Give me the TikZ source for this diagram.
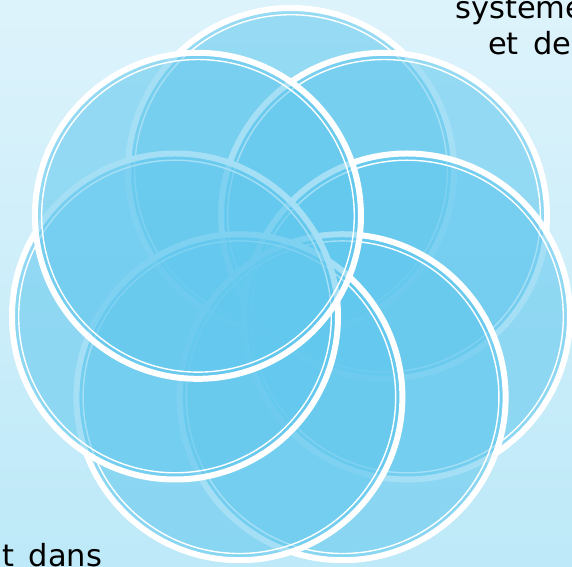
\documentclass[tikz,border=0pt]{standalone}
\usepackage{fontspec}
\setmainfont[WordSpace=1.5]{DejaVu Sans}
\definecolor{bgtop}{RGB}{221,243,251}
\definecolor{bgbot}{RGB}{189,233,248}
\definecolor{petal}{RGB}{98,200,238}
\tikzset{
  petalfill/.style={fill=petal, fill opacity=0.57},
  rimthick/.style={draw=white, line width=6pt},
  rimthin/.style={draw=white, line width=1.4pt},
  label/.style={inner sep=0pt, anchor=base west, font=\fontsize{30.5}{36}\selectfont}
}
\begin{document}
\begin{tikzpicture}[x=1pt,y=-1pt]
\useasboundingbox (0,0) rectangle (572,566);
\clip (0,0) rectangle (572,566);
\shade[top color=bgtop, bottom color=bgbot] (0,0) rectangle (572,566);
\foreach \a in {0,51.43,102.86,154.29,205.71,257.14,308.57}{
  \coordinate (c) at ({291+119*sin(\a)},{290-119*cos(\a)});
  \fill[petalfill] (c) circle (163);
  \draw[rimthick] (c) circle (163);
  \draw[rimthin] (c) circle (156.3);
}
\node[label] (t1) at (455,18) {systeme};
\node[label] (t2) at (488,54) {et de};
\node[label] (t3) at (2,566) {t dans};
\end{tikzpicture}
\end{document}
